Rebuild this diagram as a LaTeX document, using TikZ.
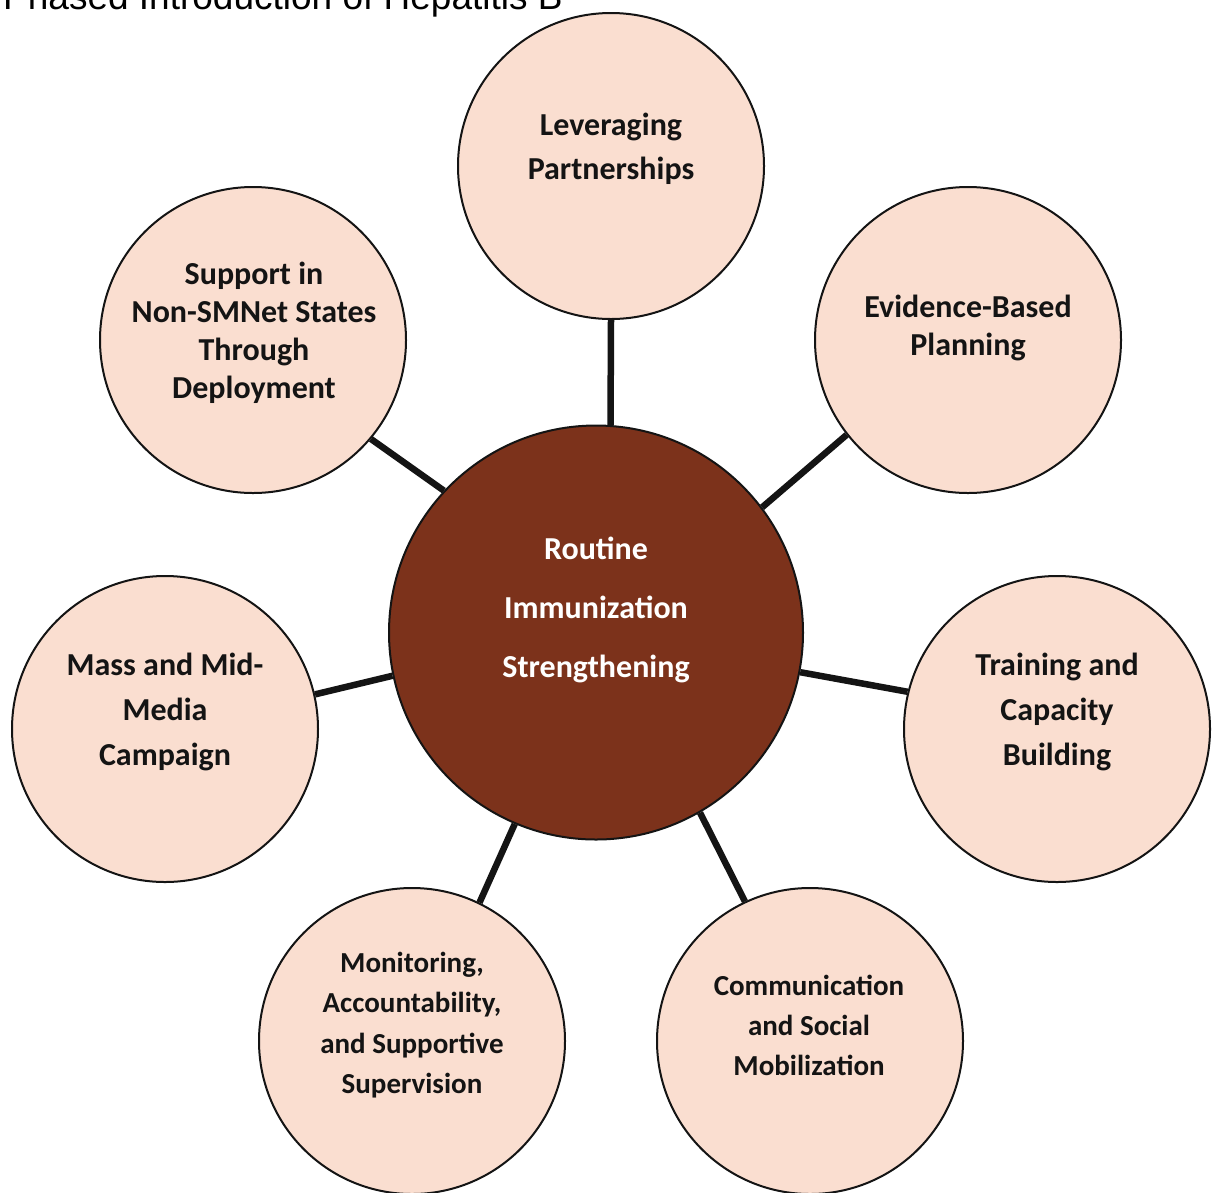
\documentclass[tikz,border=0pt]{standalone}
\usepackage{fontspec}
\setmainfont{Carlito}
\newfontfamily\titlefont{Liberation Sans}
\definecolor{peach}{RGB}{250,222,208}
\definecolor{rust}{RGB}{124,50,27}
\definecolor{ink}{RGB}{20,20,20}
\tikzset{
  outer/.style={circle, draw=ink, line width=2pt, fill=peach, minimum size=306pt, inner sep=0pt},
  hub/.style={circle, draw=ink, line width=2pt, fill=rust, minimum size=414pt, inner sep=0pt},
  link/.style={draw=ink, line width=6.5pt},
  txt/.style={align=center, text=ink, inner sep=0pt, font=\bfseries\fontsize{32}{#1}\selectfont},
  smalltxt/.style={align=center, text=ink, inner sep=0pt, font=\bfseries\fontsize{29}{#1}\selectfont},
  hubtxt/.style={align=center, text=white, inner sep=0pt, font=\bfseries\fontsize{32}{59}\selectfont}
}
\begin{document}
\begin{tikzpicture}[x=1pt,y=-1pt]
\useasboundingbox (0,0) rectangle (1217,1192);
\fill[white] (0,0) rectangle (1217,1192);
% title cut at top
\node[anchor=base west, inner sep=0pt, font=\titlefont\fontsize{37}{40}\selectfont, text=black] (title) at (3,9) {Phased Introduction of Hepatitis B};
% circles
\node[hub] (ctr) at (596,632.5) {};
\node[outer] (lev) at (611,166) {};
\node[outer] (evid) at (968,340) {};
\node[outer] (supp) at (253,340) {};
\node[outer] (mass) at (165,729) {};
\node[outer] (train) at (1057,729) {};
\node[outer] (mon) at (412,1041) {};
\node[outer] (comm) at (810,1041) {};
% connectors
\draw[link] (lev.270) -- (ctr.86);
\draw[link] (evid.218.9) -- (ctr.37.4);
\draw[link] (supp.320.8) -- (ctr.137.1);
\draw[link] (mass.13.9) -- (ctr.192.2);
\draw[link] (train.166.4) -- (ctr.349.7);
\draw[link] (mon.64.3) -- (ctr.247.2);
\draw[link] (comm.115.4) -- (ctr.300.4);
% texts
\node[hubtxt] (ctrt) at (596,610) {Routine\\Immunization\\Strengthening};
\node[txt=44] (levt) at (611,149) {Leveraging\\Partnerships};
\node[txt=38] (evidt) at (968,328) {Evidence-Based\\Planning};
\node[txt=38] (suppt) at (254,333) {Support in\\Non-SMNet States\\Through\\Deployment};
\node[txt=45] (masst) at (165,712) {Mass and Mid-\\Media\\Campaign};
\node[txt=45] (traint) at (1057,712) {Training and\\Capacity\\Building};
\node[smalltxt=40.5] (mont) at (412,1025) {Monitoring,\\Accountability,\\and Supportive\\Supervision};
\node[smalltxt=40] (commt) at (809,1025) {Communication\\and Social\\Mobilization};
\end{tikzpicture}
\end{document}
